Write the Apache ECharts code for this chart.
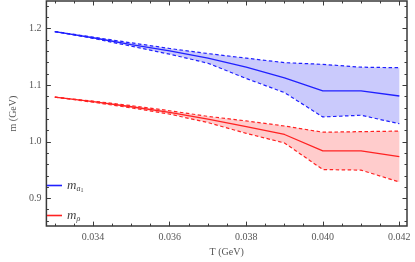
<!DOCTYPE html>
<html><head><meta charset="utf-8">
<script src="https://cdn.jsdelivr.net/npm/echarts@6/dist/echarts.min.js"></script>
<style>html,body{margin:0;padding:0;background:#fff}#c{width:415px;height:262px}</style>
</head><body><div id="c"></div>
<script>
const T = [0.033,0.034,0.035,0.036,0.037,0.038,0.039,0.040,0.041,0.042];
const a1Center = [1.195,1.184,1.172,1.161,1.148,1.132,1.113,1.090,1.090,1.081];
const a1Upper  = [1.195,1.185,1.175,1.165,1.156,1.148,1.140,1.137,1.132,1.131];
const a1Lower  = [1.195,1.183,1.169,1.155,1.139,1.112,1.087,1.044,1.047,1.032];
const rhoCenter = [1.079,1.071,1.062,1.052,1.040,1.027,1.013,0.984,0.984,0.974];
const rhoUpper  = [1.079,1.072,1.064,1.055,1.045,1.037,1.028,1.017,1.018,1.019];
const rhoLower  = [1.079,1.070,1.060,1.049,1.034,1.015,0.998,0.951,0.950,0.929];
const xMajor = [0.034,0.036,0.038,0.040,0.042];
const xMinor = [0.033,0.0335,0.034,0.0345,0.035,0.0355,0.036,0.0365,0.037,0.0375,0.038,0.0385,0.039,0.0395,0.040,0.0405,0.041,0.0415,0.042];
const yMajor = [0.9,1.0,1.1,1.2];
const yMinor = [0.86,0.88,0.90,0.92,0.94,0.96,0.98,1.00,1.02,1.04,1.06,1.08,1.10,1.12,1.14,1.16,1.18,1.20,1.22,1.24];

const X0 = 0.03278, X1 = 0.04220, Y0 = 0.851, Y1 = 1.249;
const FONT = 'Liberation Serif';
const frameColor = '#3a3a3a';
const blue = '#2020ff', blueFill = '#cacafc', red = '#ff2222', redFill = '#ffcccc';

function pairs(a){ return T.map((t,i)=>[t,a[i]]); }

function xAx(pos, ticks, len, labels, extra){
  return Object.assign({type:'value', position:pos, min:X0, max:X1, gridIndex:0,
    axisLine:{show:false}, splitLine:{show:false},
    axisTick:{show:true, inside:true, length:len, customValues:ticks, lineStyle:{color:frameColor, width:1}},
    axisLabel: labels ? {show:true, customValues:xMajor, formatter:v=>v.toFixed(3), color:'#555', fontFamily:FONT, fontSize:10, margin:6} : {show:false}
  }, extra||{});
}
function yAx(pos, ticks, len, labels, extra){
  return Object.assign({type:'value', position:pos, min:Y0, max:Y1, gridIndex:0,
    axisLine:{show:false}, splitLine:{show:false},
    axisTick:{show:true, inside:true, length:len, customValues:ticks, lineStyle:{color:frameColor, width:1}},
    axisLabel: labels ? {show:true, customValues:yMajor, formatter:v=>v.toFixed(1), color:'#555', fontFamily:FONT, fontSize:10, margin:5} : {show:false}
  }, extra||{});
}

function band(name, lower, upper, fill){
  return {
    type:'custom', name:name, xAxisIndex:0, yAxisIndex:0, silent:true, z:1,
    data: T.map((t,i)=>[t, lower[i], upper[i]]),
    renderItem: function(params, api){
      if (params.dataIndex !== 0) return null;
      const top = T.map((t,i)=>api.coord([t, upper[i]]));
      const bot = T.map((t,i)=>api.coord([t, lower[i]])).reverse();
      return {type:'polygon', shape:{points: top.concat(bot)}, style:{fill:fill, stroke:null}};
    }
  };
}

const chart = echarts.init(document.getElementById('c'), null, {renderer:'canvas'});
const lineBase = {type:'line', symbol:'none', xAxisIndex:0, yAxisIndex:0, silent:true, animation:false, z:3};
chart.setOption({
  animation:false,
  grid:{left:35, right:8, top:1, bottom:32, show:true, borderColor:frameColor, borderWidth:1.5, backgroundColor:'transparent'},
  xAxis:[
    xAx('bottom', xMinor, 2.5, true, {name:'T (GeV)', nameLocation:'middle', nameGap:17, nameTextStyle:{color:'#555', fontFamily:FONT, fontSize:10}}),
    xAx('bottom', xMajor, 4.5, false),
    xAx('top', xMinor, 2.5, false),
    xAx('top', xMajor, 4.5, false)
  ],
  yAxis:[
    yAx('left', yMinor, 2.5, true, {name:'m (GeV)', nameLocation:'middle', nameGap:23, nameTextStyle:{color:'#555', fontFamily:FONT, fontSize:10}}),
    yAx('left', yMajor, 4.5, false),
    yAx('right', yMinor, 2.5, false),
    yAx('right', yMajor, 4.5, false)
  ],
  legend:{
    orient:'vertical', left:42, top:174, itemWidth:15, itemHeight:1.6, itemGap:16, icon:'rect',
    data:['ma1','mrho'],
    formatter: n => n==='ma1' ? '{m|m}{s|a}{ss|1}' : '{m|m}{s|ρ}',
    textStyle:{fontFamily:FONT, color:'#444',
      rich:{
        m:{fontFamily:FONT, fontStyle:'italic', fontSize:13, color:'#444'},
        s:{fontFamily:FONT, fontStyle:'italic', fontSize:8, color:'#444', padding:[6,0,0,0]},
        ss:{fontFamily:FONT, fontSize:6, color:'#444', padding:[9,0,0,0]}
      }}
  },
  series:[
    band('a1band', a1Lower, a1Upper, blueFill),
    band('rhoband', rhoLower, rhoUpper, redFill),
    Object.assign({}, lineBase, {name:'a1up', data:pairs(a1Upper), lineStyle:{color:blue, width:1.2, type:[3.5,2.5]}}),
    Object.assign({}, lineBase, {name:'a1lo', data:pairs(a1Lower), lineStyle:{color:blue, width:1.2, type:[3.5,2.5]}}),
    Object.assign({}, lineBase, {name:'rhoup', data:pairs(rhoUpper), lineStyle:{color:red, width:1.2, type:[3.5,2.5]}}),
    Object.assign({}, lineBase, {name:'rholo', data:pairs(rhoLower), lineStyle:{color:red, width:1.2, type:[3.5,2.5]}}),
    Object.assign({}, lineBase, {name:'ma1', data:pairs(a1Center), color:blue, lineStyle:{color:blue, width:1.3}, itemStyle:{color:blue}}),
    Object.assign({}, lineBase, {name:'mrho', data:pairs(rhoCenter), color:red, lineStyle:{color:red, width:1.3}, itemStyle:{color:red}})
  ]
});
</script></body></html>
